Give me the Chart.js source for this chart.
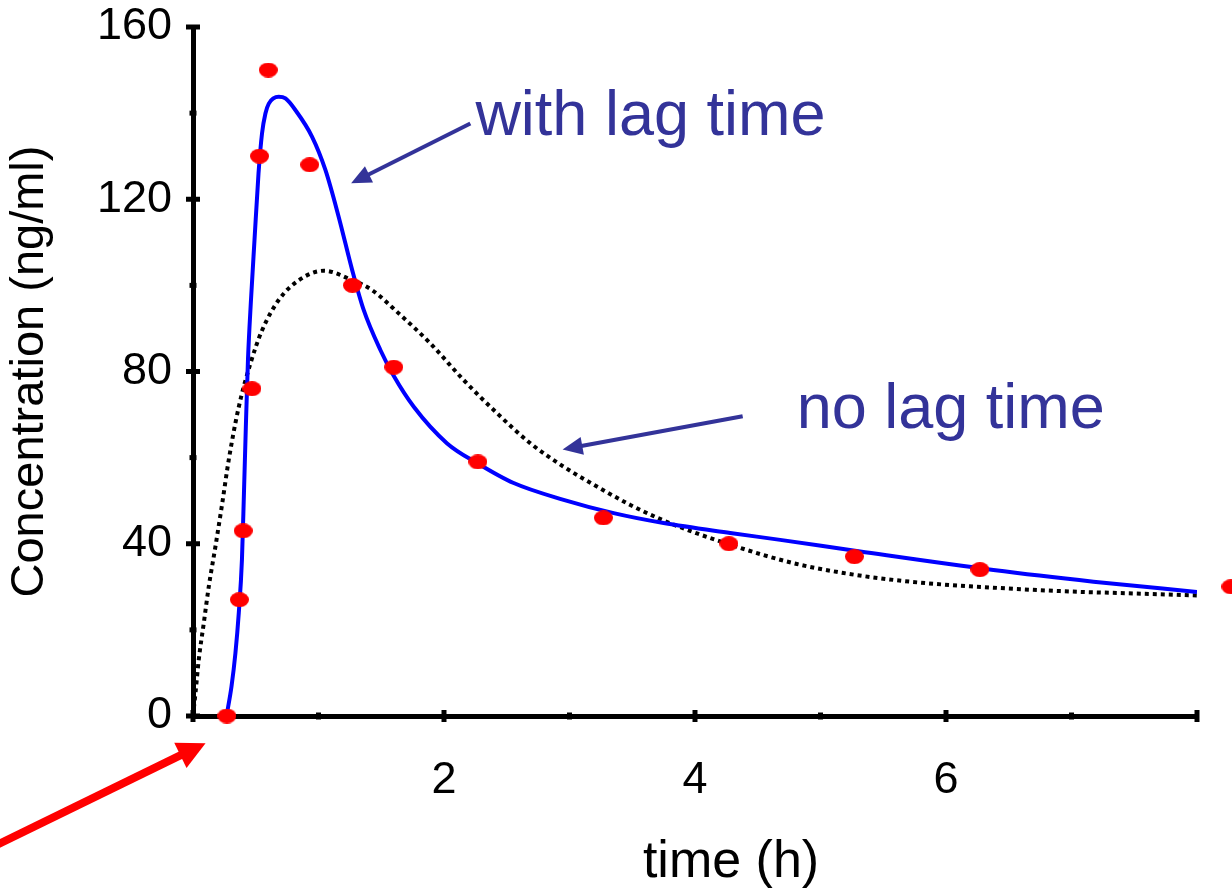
<!DOCTYPE html>
<html>
<head>
<meta charset="utf-8">
<title>Concentration vs time</title>
<script src="https://cdn.jsdelivr.net/npm/chart.js@4.4.1/dist/chart.umd.min.js"></script>
<style>
  html, body { margin: 0; padding: 0; background: #fff; }
  #wrap { width: 1232px; height: 888px; position: relative; }
</style>
</head>
<body>
<div id="wrap"><canvas id="pkChart"></canvas></div>
<script>
// observed plasma samples (h, ng/ml)
const sampleTimes = [0.27, 0.37, 0.40, 0.47, 0.53, 0.60, 0.93, 1.27, 1.60, 2.27, 3.27, 4.27, 5.27, 6.27, 8.27];
const sampleConc  = [0, 27, 43, 76, 130, 150, 128, 100, 81, 59, 46, 40, 37, 34, 30];

// fitted profile, absorption with lag time
const lagFitTimes = [0.267, 0.307, 0.338, 0.365, 0.390, 0.406, 0.421, 0.438, 0.462, 0.490,
                     0.522, 0.550, 0.577, 0.604, 0.683, 0.737, 0.816, 0.949, 1.055, 1.161,
                     1.268, 1.360, 1.493, 1.599, 1.759, 2.025, 2.266, 2.555, 2.953, 3.352,
                     3.750, 4.281, 4.679, 5.316, 6.378, 7.175, 8.000];
const lagFitConc  = [0, 6.9, 14.6, 24.0, 36.3, 51.8, 67.1, 82.7, 96.6, 110.5,
                     126.0, 135.3, 139.9, 142.2, 143.8, 143.4, 140.7, 134.5, 126.8, 115.9,
                     103.6, 94.3, 85.0, 79.0, 71.8, 63.3, 58.7, 54.1, 50.2, 47.1,
                     44.8, 42.5, 40.9, 38.2, 33.9, 31.2, 28.8];

// fitted profile, no lag time
const noLagFitTimes = [0, 0.020, 0.046, 0.086, 0.126, 0.179, 0.233, 0.285, 0.365, 0.458,
                       0.551, 0.683, 0.843, 1.042, 1.268, 1.427, 1.639, 1.892, 2.157, 2.423,
                       2.689, 2.953, 3.219, 3.485, 3.750, 4.016, 4.281, 4.520, 4.812, 5.184,
                       5.582, 5.901, 6.378, 6.910, 7.441, 8.000];
const noLagFitConc  = [0, 5.4, 13.1, 21.6, 30.1, 39.4, 49.4, 59.5, 71.8, 81.9,
                       89.6, 96.6, 101.2, 103.4, 101.2, 98.9, 93.5, 86.5, 78.0, 70.3,
                       63.3, 57.9, 53.3, 49.0, 45.4, 42.4, 39.8, 37.6, 35.3, 33.2,
                       31.6, 30.7, 29.8, 29.0, 28.5, 28.0];

const xTickLabels = [2, 4, 6];
const yTickLabels = [0, 40, 80, 120, 160];

// callouts, placed in data units
const calloutLabels    = ['with lag time', 'no lag time'];
const calloutTextAt    = [[2.25, 134.9], [4.81, 66.8]];
const calloutArrowFrom = [[2.21, 137.6], [4.38, 69.6]];
const calloutArrowTo   = [[1.26, 123.7], [2.945, 61.9]];
const lagArrowFrom = [-1.61, -30.6];
const lagArrowTo   = [0.10, -6.3];

const FONT = '"Liberation Sans", Arial, sans-serif';
Chart.defaults.font.family = FONT;
Chart.defaults.color = '#000';

function toPoints(xs, ys) {
  return xs.map((x, i) => ({ x: x, y: ys[i] }));
}

// red oval marker used for the samples
function ovalMarker(w, h, color) {
  const c = document.createElement('canvas');
  c.width = w;
  c.height = h;
  const g = c.getContext('2d');
  g.fillStyle = color;
  g.beginPath();
  g.ellipse(w / 2, h / 2, w / 2, h / 2, 0, 0, Math.PI * 2);
  g.fill();
  return c;
}

function drawArrow(ctx, x1, y1, x2, y2, color, width, headLen, headHalf) {
  const dx = x2 - x1, dy = y2 - y1;
  const len = Math.hypot(dx, dy);
  const ux = dx / len, uy = dy / len;
  const bx = x2 - ux * headLen, by = y2 - uy * headLen;
  ctx.strokeStyle = color;
  ctx.fillStyle = color;
  ctx.lineWidth = width;
  ctx.lineCap = 'butt';
  ctx.beginPath();
  ctx.moveTo(x1, y1);
  ctx.lineTo(bx + ux, by + uy);
  ctx.stroke();
  ctx.beginPath();
  ctx.moveTo(x2, y2);
  ctx.lineTo(bx - uy * headHalf, by + ux * headHalf);
  ctx.lineTo(bx + uy * headHalf, by - ux * headHalf);
  ctx.closePath();
  ctx.fill();
}

// tick marks that cross the axis line (major long, minor short)
const crossTicks = {
  id: 'crossTicks',
  beforeDatasetsDraw(chart) {
    const { ctx, scales: { x, y }, chartArea } = chart;
    ctx.save();
    ctx.strokeStyle = '#000';
    ctx.lineWidth = 5;
    ctx.lineCap = 'butt';
    x.ticks.forEach(t => {
      const px = x.getPixelForValue(t.value);
      const half = t.value % 2 === 0 ? 6 : 3.5;
      ctx.beginPath();
      ctx.moveTo(px, chartArea.bottom - half);
      ctx.lineTo(px, chartArea.bottom + half);
      ctx.stroke();
    });
    y.ticks.forEach(t => {
      const py = y.getPixelForValue(t.value);
      const half = t.value % 40 === 0 ? 7 : 3.5;
      ctx.beginPath();
      ctx.moveTo(chartArea.left - half, py);
      ctx.lineTo(chartArea.left + half, py);
      ctx.stroke();
    });
    ctx.restore();
  }
};

const callouts = {
  id: 'callouts',
  afterDraw(chart) {
    const { ctx, scales: { x, y }, chartArea } = chart;
    ctx.save();
    calloutLabels.forEach((text, i) => {
      const from = calloutArrowFrom[i], to = calloutArrowTo[i];
      drawArrow(ctx, x.getPixelForValue(from[0]), y.getPixelForValue(from[1]),
                x.getPixelForValue(to[0]), y.getPixelForValue(to[1]),
                '#333399', 4, 20, 9);
      ctx.fillStyle = '#333399';
      ctx.font = '63px ' + FONT;
      ctx.textAlign = 'left';
      ctx.textBaseline = 'alphabetic';
      ctx.fillText(text, x.getPixelForValue(calloutTextAt[i][0]), y.getPixelForValue(calloutTextAt[i][1]));
    });

    // lag time marker below the axis
    drawArrow(ctx, x.getPixelForValue(lagArrowFrom[0]), y.getPixelForValue(lagArrowFrom[1]),
              x.getPixelForValue(lagArrowTo[0]), y.getPixelForValue(lagArrowTo[1]),
              '#ff0000', 8, 28, 14);

    // x axis title, sits right of centre
    ctx.fillStyle = '#000';
    ctx.font = '52px ' + FONT;
    ctx.textAlign = 'center';
    ctx.textBaseline = 'alphabetic';
    ctx.fillText('time (h)', (chartArea.left + chartArea.right) / 2 + 36, chartArea.bottom + 161);
    ctx.restore();
  }
};

const axisBorder = { display: true, color: '#000', width: 5 };
const noGrid = { display: true, drawOnChartArea: false, drawTicks: false };

new Chart(document.getElementById('pkChart'), {
  type: 'scatter',
  data: {
    datasets: [{
      label: 'observed',
      data: toPoints(sampleTimes, sampleConc),
      pointStyle: ovalMarker(19, 15, '#ff0000'),
      pointRadius: 40,
      showLine: false,
      clip: false
    }, {
      label: 'with lag time',
      data: toPoints(lagFitTimes, lagFitConc),
      showLine: true,
      borderColor: '#0000ff',
      borderWidth: 4,
      pointRadius: 0,
      cubicInterpolationMode: 'monotone',
      fill: false
    }, {
      label: 'no lag time',
      data: toPoints(noLagFitTimes, noLagFitConc),
      showLine: true,
      borderColor: '#000',
      borderWidth: 4,
      borderDash: [4, 4],
      borderCapStyle: 'butt',
      pointRadius: 0,
      cubicInterpolationMode: 'monotone',
      fill: false
    }]
  },
  options: {
    responsive: true,
    maintainAspectRatio: false,
    animation: false,
    events: [],
    layout: { autoPadding: false, padding: { top: 27, right: 35, bottom: 0, left: 0 } },
    plugins: {
      legend: { display: false },
      tooltip: { enabled: false }
    },
    scales: {
      x: {
        type: 'linear',
        min: 0,
        max: 8,
        afterFit(scale) {
          scale.height = 172;
          scale.paddingLeft = 0;
          scale.paddingRight = 0;
        },
        grid: noGrid,
        border: axisBorder,
        ticks: {
          stepSize: 1,
          autoSkip: false,
          maxRotation: 0,
          padding: 38,
          color: '#000',
          font: { size: 45 },
          callback: v => xTickLabels.includes(v) ? String(v) : ''
        }
      },
      y: {
        type: 'linear',
        min: 0,
        max: 160,
        afterFit(scale) {
          scale.width = 193;
          scale.paddingTop = 0;
          scale.paddingBottom = 0;
        },
        grid: noGrid,
        border: axisBorder,
        ticks: {
          stepSize: 20,
          autoSkip: false,
          padding: 21,
          color: '#000',
          font: { size: 45 },
          callback: v => yTickLabels.includes(v) ? String(v) : ''
        },
        title: {
          display: true,
          text: 'Concentration (ng/ml)',
          color: '#000',
          font: { size: 47 },
          padding: { top: 2, bottom: 0 }
        }
      }
    }
  },
  plugins: [crossTicks, callouts]
});
</script>
</body>
</html>
